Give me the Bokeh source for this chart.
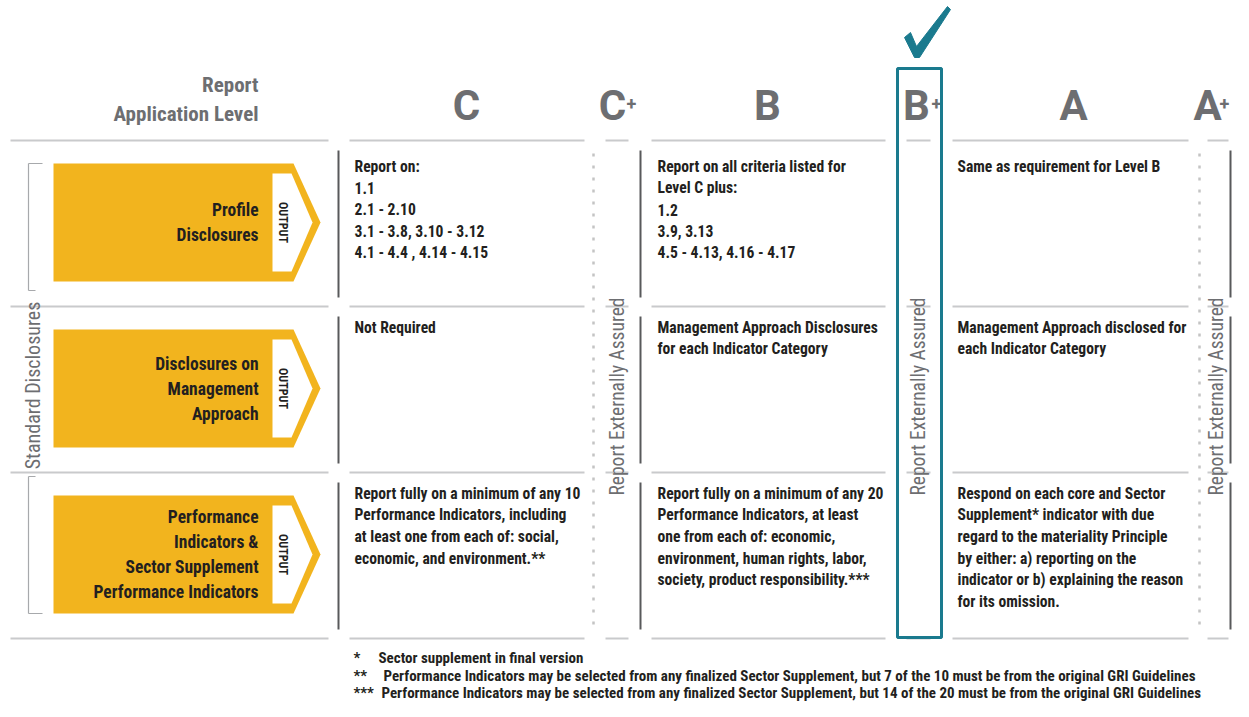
import numpy as np
from bokeh.plotting import figure
from bokeh.models import Range1d
from bokeh.core.properties import value
from bokeh.embed import file_html
from bokeh.resources import INLINE

# ---------------- content ----------------
header_title = ["Report", "Application Level"]
level_letters = ["C", "C", "B", "B", "A", "A"]
level_plus = ["", "+", "", "+", "", "+"]
side_title = "Standard Disclosures"
output_tag = "OUTPUT"
assured_label = "Report Externally Assured"

row_labels = [
    ["Profile", "Disclosures"],
    ["Disclosures on", "Management", "Approach"],
    ["Performance", "Indicators &", "Sector Supplement", "Performance Indicators"],
]

cells_C = [
    ["Report on:", "1.1", "2.1 -  2.10", "3.1 - 3.8, 3.10 - 3.12", "4.1 - 4.4 , 4.14 - 4.15"],
    ["Not Required"],
    ["Report fully on a minimum of any 10", "Performance Indicators, including",
     "at least one from each of: social,", "economic, and environment.**"],
]
cells_B = [
    ["Report on all criteria listed for", "Level C plus:", "1.2", "3.9, 3.13", "4.5 - 4.13, 4.16 - 4.17"],
    ["Management Approach Disclosures", "for each Indicator Category"],
    ["Report fully on a minimum of any 20", "Performance Indicators, at least",
     "one from each of: economic,", "environment, human rights, labor,",
     "society, product responsibility.***"],
]
cells_A = [
    ["Same as requirement for Level B"],
    ["Management Approach disclosed for", "each Indicator Category"],
    ["Respond on each core and Sector", "Supplement* indicator with due",
     "regard to the materiality Principle", "by either: a) reporting on the",
     "indicator or b) explaining the reason", "for its omission."],
]

footnote_marks = ["*", "**", "***"]
footnote_texts = [
    "Sector supplement in final version",
    "Performance Indicators may be selected from any finalized Sector Supplement, but 7 of the 10 must be from the original GRI Guidelines",
    "Performance Indicators may be selected from any finalized Sector Supplement, but 14 of the 20 must be from the original GRI Guidelines",
]

# ---------------- styling / layout ----------------
FONT = "Roboto Condensed"
FONT_BIG = "Roboto"
GREY_TXT = "#6d6e71"
DARK_TXT = "#231f20"
YELLOW = "#f2b41e"
TEAL = "#1a7a8e"
LIGHT_LINE = "#c9cacc"
DARK_LINE = "#58595b"
DOT = "#c4c4c4"

W, H = 1233, 701
p = figure(width=W, height=H, x_range=Range1d(0, W), y_range=Range1d(H, 0),
           output_backend="svg", toolbar_location=None, x_axis_type=None, y_axis_type=None,
           min_border=0, outline_line_color=None, background_fill_color="white",
           border_fill_color="white")

def txt(xs, ys, texts, size, color=DARK_TXT, align="left", style="bold", angle=0.0,
        baseline="middle", font=FONT):
    p.text(x=list(xs), y=list(ys), text=list(texts), text_font=value(font),
           text_font_size=f"{size}px", text_font_style=style, text_color=color,
           text_align=align, text_baseline=baseline, angle=angle)

seps = [140, 306, 472, 638]
first_line_y = [166, 327, 493]
line_gap = 21.7

# header
txt([258, 258], [84, 113], header_title, 21, GREY_TXT, "right")

col_lines = [(349, 584), (605, 628), (651, 885), (906, 930), (952, 1188), (1207, 1228)]
letter_x = [466, 612, 767, 916, 1073, 1207]
plus_x = [None, 631, None, 936, None, 1224]

txt(letter_x, [105] * 6, level_letters, 42, GREY_TXT, "center", font=FONT_BIG)
px = [plus_x[i] for i in range(6) if level_plus[i]]
pl = [level_plus[i] for i in range(6) if level_plus[i]]
txt(px, [103] * len(px), pl, 18, GREY_TXT, "center", font=FONT_BIG)

for s in seps:
    p.segment(x0=[c[0] for c in col_lines] + [10], y0=[s] * 7,
              x1=[c[1] for c in col_lines] + [328], y1=[s] * 7,
              line_color=LIGHT_LINE, line_width=2)

solid_x = [338, 640, 1230]
for r in range(3):
    y0, y1 = seps[r] + 10, seps[r + 1] - 9
    p.segment(x0=solid_x, y0=[y0] * 3, x1=solid_x, y1=[y1] * 3, line_color=DARK_LINE, line_width=2)

dot_x = [593, 1199]
p.segment(x0=dot_x, y0=[153] * 2, x1=dot_x, y1=[632] * 2, line_color=DOT, line_width=2.5,
          line_dash="3 9")

text_x = [354, 657, 957]
for cx, cells in zip(text_x, [cells_C, cells_B, cells_A]):
    for r, lines in enumerate(cells):
        ys = [first_line_y[r] + i * line_gap for i in range(len(lines))]
        txt([cx] * len(lines), ys, lines, 15.6, DARK_TXT, "left")

assured_x = [617, 918, 1216]
txt(assured_x, [396] * 3, [assured_label] * 3, 19.5, GREY_TXT, "center", style="normal",
    angle=np.pi / 2)

bx0, bx1 = 897, 941
p.quad(left=[bx0], right=[bx1], top=[68], bottom=[637], fill_color=None, line_color=TEAL, line_width=3)
cx, cy = (bx0 + bx1) / 2, 57
check_dx = [-15, -9, -3, 28, 31, 0, -5]
check_dy = [-20, -25, -11, -51, -48, 0, 0]
p.patch(x=[cx + d for d in check_dx], y=[cy + d for d in check_dy], fill_color=TEAL, line_color=TEAL,
        line_width=1)

p.segment(x0=[28, 28, 28, 28, 28, 28], y0=[163, 163, 290, 476, 476, 613],
          x1=[42, 28, 35, 35, 28, 42], y1=[163, 290, 290, 476, 613, 613],
          line_color="#a7a9ac", line_width=1.2)
txt([32], [385], [side_title], 20, GREY_TXT, "center", style="normal", angle=np.pi / 2)

box_mid = [(seps[r] + seps[r + 1]) / 2 - 1 for r in range(3)]
half_h = 59
for r, mid in enumerate(box_mid):
    t, b = mid - half_h, mid + half_h
    p.patch(x=[53, 293, 320, 293, 53], y=[t, t, mid, b, b], fill_color=YELLOW, line_color=None)
    p.patch(x=[272, 291, 312, 291, 272], y=[t + 10, t + 10, mid, b - 10, b - 10],
            fill_color="white", line_color=None)
    txt([282], [mid], [output_tag], 12, DARK_TXT, "center", angle=-np.pi / 2)
    lines = row_labels[r]
    n = len(lines)
    ys = [mid + (i - (n - 1) / 2) * 25 for i in range(n)]
    txt([258] * n, ys, lines, 17.5, DARK_TXT, "right")

foot_y = [657, 675, 692]
txt([353] * 3, foot_y, footnote_marks, 15, DARK_TXT, "left")
txt([378, 383, 381], foot_y, footnote_texts, 15, DARK_TXT, "left")

open("out.html", "w").write(file_html(p, INLINE))
